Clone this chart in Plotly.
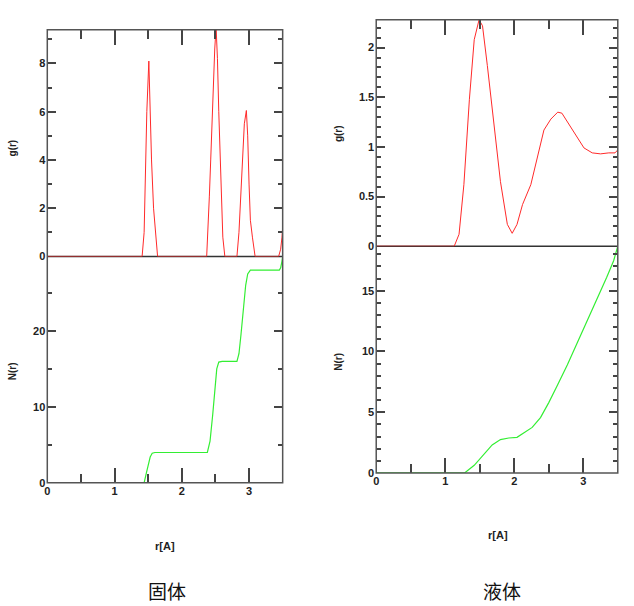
import plotly.graph_objects as go

# ---------------- data ----------------
# Solid: g(r)
solid_r_g = [0.0, 1.41, 1.44, 1.46, 1.48, 1.51, 1.53, 1.55, 1.58, 1.61, 1.64,
             2.37, 2.39, 2.41, 2.43, 2.45, 2.47, 2.49, 2.51, 2.53, 2.55, 2.57, 2.59, 2.61, 2.64,
             2.82, 2.85, 2.88, 2.90, 2.93, 2.96, 2.98, 3.00, 3.02, 3.05, 3.09,
             3.44, 3.47, 3.49, 3.50]
solid_g = [0.0, 0.0, 1.0, 4.0, 6.0, 8.1, 6.0, 4.0, 2.0, 1.0, 0.0,
           0.0, 1.0, 2.5, 4.0, 5.8, 7.3, 8.6, 9.5, 8.2, 6.0, 4.0, 1.8, 0.8, 0.0,
           0.0, 1.0, 2.5, 4.0, 5.5, 6.05, 5.0, 3.0, 1.5, 0.8, 0.0,
           0.0, 0.3, 0.8, 1.2]

# Solid: N(r)
solid_r_n = [0.0, 1.44, 1.47, 1.50, 1.53, 1.56, 1.60, 2.38, 2.42, 2.46, 2.49, 2.52, 2.55, 2.60,
             2.82, 2.85, 2.88, 2.92, 2.95, 2.98, 3.02, 3.45, 3.47, 3.49, 3.50]
solid_n = [0.0, 0.0, 1.2, 2.4, 3.4, 3.9, 4.0, 4.0, 5.5, 9.0, 12.5, 15.0, 15.9, 16.0,
           16.0, 17.0, 19.5, 23.0, 26.0, 27.5, 28.0, 28.0, 28.3, 29.2, 29.8]

# Liquid: g(r)
liquid_r_g = [0.0, 1.13, 1.20, 1.27, 1.35, 1.42, 1.49, 1.54, 1.61, 1.71, 1.80, 1.90, 1.97,
              2.04, 2.12, 2.24, 2.33, 2.43, 2.53, 2.63, 2.69, 2.77, 2.89, 3.01, 3.13,
              3.25, 3.37, 3.46, 3.50]
liquid_g = [0.0, 0.0, 0.12, 0.62, 1.48, 2.08, 2.28, 2.22, 1.82, 1.18, 0.65, 0.22, 0.13,
            0.22, 0.42, 0.62, 0.89, 1.17, 1.28, 1.35, 1.34, 1.25, 1.12, 0.99, 0.94,
            0.93, 0.94, 0.94, 0.97]

# Liquid: N(r)
liquid_r_n = [0.0, 1.28, 1.42, 1.56, 1.68, 1.80, 1.92, 2.04, 2.14, 2.26, 2.38, 2.50, 2.62,
              2.77, 2.91, 3.05, 3.20, 3.34, 3.44, 3.50]
liquid_n = [0.0, 0.0, 0.63, 1.58, 2.31, 2.75, 2.88, 2.93, 3.29, 3.75, 4.56, 5.79, 7.15,
            8.9, 10.68, 12.44, 14.2, 16.1, 17.47, 18.66]

x_title = "r[A]"
g_title = "g(r)"
n_title = "N(r)"
captions = ["固体", "液体"]

# ---------------- layout helpers ----------------
W, H = 634, 606
def px(x):
    return x / W
def py(y):
    return 1 - y / H

FONT = "Liberation Sans Narrow, Liberation Sans, Arial"
tickfont = dict(family=FONT, size=11, color="#222222", weight="bold")
FRAME = "#555555"
RED = "#ff2a2a"
GREEN = "#33ee33"

# pixel geometry of the panels
L = dict(x0=44.5, x1=281, top=30, mid=259, bot=487.7)
R = dict(x0=375, x1=617.7, top=20, mid=248.7, bot=477.7)

fig = go.Figure()
fig.add_trace(go.Scatter(x=solid_r_g, y=solid_g, mode="lines", line=dict(color=RED, width=1),
                         xaxis="x", yaxis="y", showlegend=False))
fig.add_trace(go.Scatter(x=solid_r_n, y=solid_n, mode="lines", line=dict(color=GREEN, width=1.2),
                         xaxis="x2", yaxis="y2", showlegend=False))
fig.add_trace(go.Scatter(x=liquid_r_g, y=liquid_g, mode="lines", line=dict(color=RED, width=1),
                         xaxis="x3", yaxis="y3", showlegend=False))
fig.add_trace(go.Scatter(x=liquid_r_n, y=liquid_n, mode="lines", line=dict(color=GREEN, width=1.2),
                         xaxis="x4", yaxis="y4", showlegend=False))

def xaxis(panel, anchor, top):
    d = dict(domain=[px(panel["x0"]), px(panel["x1"])], anchor=anchor, range=[0, 3.5],
             showgrid=False, zeroline=False, showline=False,
             ticks="inside", ticklen=15, tickwidth=1.5, tickcolor="#444444",
             dtick=1, tick0=0,
             minor=dict(ticks="inside", ticklen=9, tickwidth=1.5, tickcolor="#444444", dtick=0.5),
             tickfont=tickfont, fixedrange=True)
    if top:
        d.update(side="top", showticklabels=False)
    else:
        d.update(side="bottom", showticklabels=True)
    return d

def yaxis(panel, anchor, upper, rng, dtick, mdtick):
    if upper:
        dom = [py(panel["mid"]), py(panel["top"])]
    else:
        dom = [py(panel["bot"]), py(panel["mid"])]
    return dict(domain=dom, anchor=anchor, range=rng, showgrid=False, zeroline=False,
                showline=False, ticks="inside", ticklen=9, tickwidth=1.5, tickcolor="#444444",
                mirror="ticks", dtick=dtick, tick0=0,
                minor=dict(ticks="inside", ticklen=4.5, tickwidth=1.5, tickcolor="#444444", dtick=mdtick),
                tickfont=tickfont, ticklabelstandoff=1, fixedrange=True)

fig.update_layout(
    width=W, height=H, margin=dict(l=0, r=0, t=0, b=0),
    paper_bgcolor="white", plot_bgcolor="white",
    xaxis=xaxis(L, "y", True),
    yaxis=yaxis(L, "x", True, [0, 9.4], 2, 1),
    xaxis2=xaxis(L, "y2", False),
    yaxis2=yaxis(L, "x2", False, [0, 29.8], 10, 5),
    xaxis3=xaxis(R, "y3", True),
    yaxis3=yaxis(R, "x3", True, [0, 2.28], 0.5, 0.1),
    xaxis4=xaxis(R, "y4", False),
    yaxis4=yaxis(R, "x4", False, [0, 18.66], 5, 1),
)

shapes = []
for P in (L, R):
    shapes.append(dict(type="rect", xref="paper", yref="paper",
                       x0=px(P["x0"]), x1=px(P["x1"]), y0=py(P["bot"]), y1=py(P["top"]),
                       line=dict(color=FRAME, width=1.5), layer="above"))
    shapes.append(dict(type="line", xref="paper", yref="paper",
                       x0=px(P["x0"]), x1=px(P["x1"]), y0=py(P["mid"]), y1=py(P["mid"]),
                       line=dict(color="#333333", width=1.5), layer="below"))
fig.update_layout(shapes=shapes)

titlefont = dict(family=FONT, size=10, color="#222222")
def ann_at(text, x, y, font, angle=0):
    return dict(text=text, x=px(x), y=py(y), xref="paper", yref="paper",
                xanchor="center", yanchor="middle", showarrow=False,
                textangle=angle, font=font)

ann = []
xt_font = dict(family=FONT, size=11, color="#222222")
ann.append(ann_at("<b>" + x_title + "</b>", 163, 551, xt_font))
ann.append(ann_at("<b>" + x_title + "</b>", 497.5, 540, xt_font))
for (xx, yy, t) in [(10, 149, g_title), (9, 375, n_title), (337, 135, g_title), (337, 365, n_title)]:
    ann.append(ann_at("<b>" + t + "</b>", xx, yy, titlefont, -90))
cap_font = dict(family="Noto Sans CJK SC", size=19, color="#111111")
ann.append(ann_at(captions[0], 165, 596, cap_font))
ann.append(ann_at(captions[1], 501.5, 596, cap_font))
fig.update_layout(annotations=ann)

fig.write_html("out.html")
